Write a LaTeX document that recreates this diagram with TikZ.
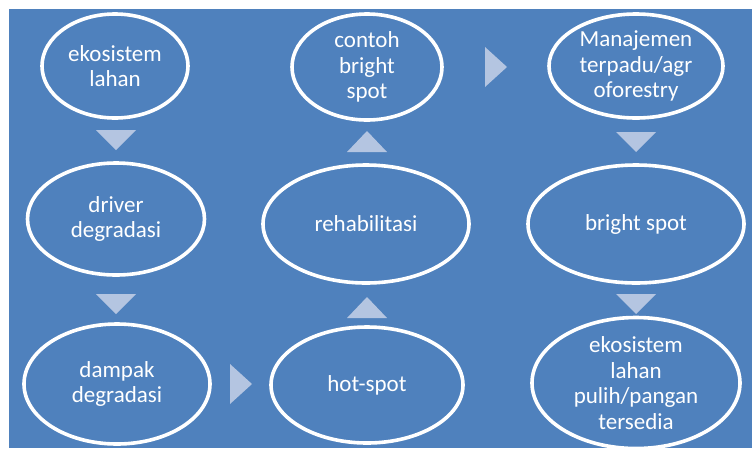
\documentclass[tikz,border=0pt]{standalone}
\usepackage{fontspec}
\setmainfont{Carlito}
\usepackage{tikz}
\usetikzlibrary{shapes.geometric}

\definecolor{bgblue}{RGB}{79,129,189}
\definecolor{chevblue}{RGB}{180,197,225}

\begin{document}
\begin{tikzpicture}[x=1pt,y=-1pt,
  oval/.style={ellipse,draw=white,fill=bgblue,line width=3.6pt,inner sep=0pt,
    align=center,text=white,font=\fontsize{23}{25.5}\selectfont},
  chev/.style={fill=chevblue}]
  \useasboundingbox (0,0) rectangle (752,448);
  \fill[bgblue] (9,9) rectangle (752,448);
  % left column
  \node[oval,minimum width=146pt,minimum height=104pt] (eko) at (115,66) {ekosistem\\lahan};
  \node[oval,minimum width=177pt,minimum height=112pt] (driver) at (116,219) {driver\\degradasi};
  \node[oval,minimum width=186pt,minimum height=120pt] (dampak) at (117,384) {dampak\\degradasi};
  % middle column
  \node[oval,minimum width=192pt,minimum height=116pt] (hot) at (367,385) {hot-spot};
  \node[oval,minimum width=206pt,minimum height=118pt] (rehab) at (366,224) {rehabilitasi};
  \node[oval,minimum width=150pt,minimum height=106pt] (contoh) at (367,67) {contoh\\bright\\spot};
  % right column
  \node[oval,minimum width=174pt,minimum height=104pt] (manaj) at (636,66) {Manajemen\\terpadu/agr\\oforestry};
  \node[oval,minimum width=216pt,minimum height=118pt] (bright) at (636,224) {bright spot};
  \node[oval,minimum width=208pt,minimum height=120pt] (pulih) at (636,383) {ekosistem\\lahan\\pulih/pangan\\tersedia};
  % chevrons
  \fill[chev] (96,130) -- (136,130) -- (116,150) -- cycle;
  \fill[chev] (96,294) -- (136,294) -- (116,314) -- cycle;
  \fill[chev] (230,364) -- (252,384) -- (230,404) -- cycle;
  \fill[chev] (347,318) -- (387,318) -- (367,297) -- cycle;
  \fill[chev] (347,152) -- (387,152) -- (367,131) -- cycle;
  \fill[chev] (485,47) -- (507,67) -- (485,87) -- cycle;
  \fill[chev] (616,132) -- (656,132) -- (636,152) -- cycle;
  \fill[chev] (616,294) -- (656,294) -- (636,314) -- cycle;
\end{tikzpicture}
\end{document}
